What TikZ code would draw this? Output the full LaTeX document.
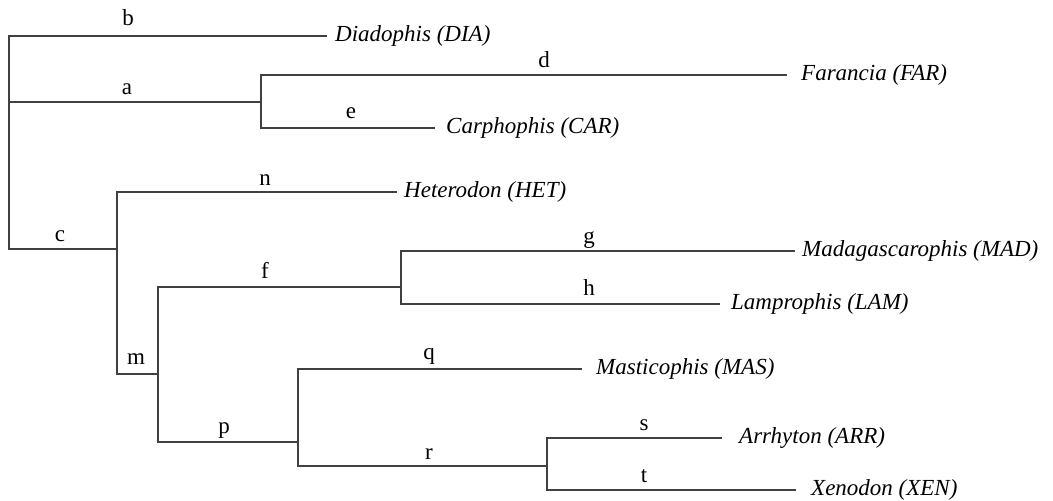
\documentclass[tikz,border=0pt]{standalone}
\usepackage{fontspec}
\setmainfont{Liberation Serif}
\usetikzlibrary{positioning}

\tikzset{
  branch/.style={draw=black!75, line width=1.1pt},
  elbow/.style={to path={|- (\tikztotarget)}},
  taxon/.style={anchor=west, inner sep=0pt, font=\itshape\fontsize{23}{27}\selectfont},
  blabel/.style={anchor=base, inner sep=0pt, font=\fontsize{23}{27}\selectfont},
}

\begin{document}
\begin{tikzpicture}[x=1pt,y=-1pt]
   \useasboundingbox (0,0) rectangle (1053,501);

   % internal nodes
   \coordinate (root) at (9,142);
   \coordinate (nA) at (261,102);
   \coordinate (nC) at (117,249);
   \coordinate (nM) at (158,374);
   \coordinate (nF) at (401,287);
   \coordinate (nP) at (298,442);
   \coordinate (nR) at (547,466);

   % branch tips
   \coordinate (tDIA) at (327,36);
   \coordinate (tFAR) at (787,75);
   \coordinate (tCAR) at (435,128);
   \coordinate (tHET) at (397,192);
   \coordinate (tMAD) at (795,251);
   \coordinate (tLAM) at (720,304);
   \coordinate (tMAS) at (582,369);
   \coordinate (tARR) at (722,438);
   \coordinate (tXEN) at (796,490);

   % taxa
   \node[taxon] (DIA) at (335,36) {Diadophis (DIA)};
   \node[taxon] (FAR) at (801,75) {Farancia (FAR)};
   \node[taxon] (CAR) at (446,128) {Carphophis (CAR)};
   \node[taxon] (HET) at (404,192) {Heterodon (HET)};
   \node[taxon] (MAD) at (802,251) {Madagascarophis (MAD)};
   \node[taxon] (LAM) at (731,304) {Lamprophis (LAM)};
   \node[taxon] (MAS) at (596,369) {Masticophis (MAS)};
   \node[taxon] (ARR) at (739,438) {Arrhyton (ARR)};
   \node[taxon] (XEN) at (811,490) {Xenodon (XEN)};

   \path[branch]
    (root) edge[elbow] (tDIA)
           edge[elbow] (nA)
           edge[elbow] (nC)
    (nA)   edge[elbow] (tFAR)
           edge[elbow] (tCAR)
    (nC)   edge[elbow] (tHET)
           edge[elbow] (nM)
    (nM)   edge[elbow] (nF)
           edge[elbow] (nP)
    (nF)   edge[elbow] (tMAD)
           edge[elbow] (tLAM)
    (nP)   edge[elbow] (tMAS)
           edge[elbow] (nR)
    (nR)   edge[elbow] (tARR)
           edge[elbow] (tXEN);

   % branch labels
   \node[blabel] (lb) at (128,25) {b};
   \node[blabel] (la) at (127,94) {a};
   \node[blabel] (ld) at (544,67) {d};
   \node[blabel] (le) at (351,118) {e};
   \node[blabel] (ln) at (265,185) {n};
   \node[blabel] (lc) at (60,241) {c};
   \node[blabel] (lg) at (589,243) {g};
   \node[blabel] (lh) at (589,295) {h};
   \node[blabel] (lf) at (265,278) {f};
   \node[blabel] (lm) at (136,364) {m};
   \node[blabel] (lp) at (224,433) {p};
   \node[blabel] (lq) at (429,359) {q};
   \node[blabel] (lr) at (429,459) {r};
   \node[blabel] (ls) at (644,430) {s};
   \node[blabel] (lt) at (644,482) {t};
\end{tikzpicture}
\end{document}
